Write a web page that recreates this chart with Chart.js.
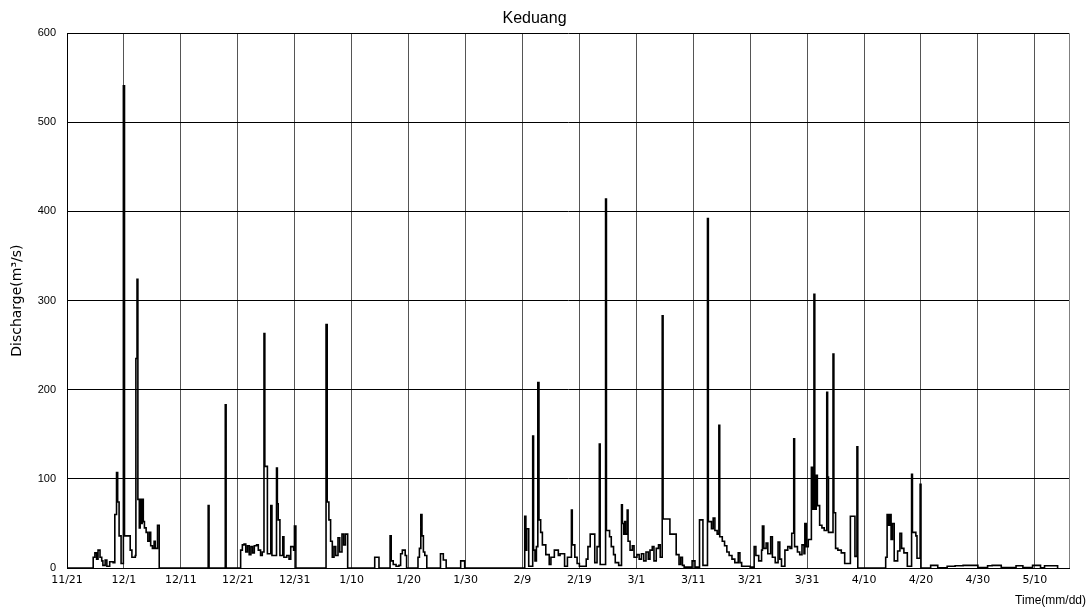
<!DOCTYPE html>
<html>
<head>
<meta charset="utf-8">
<script src="https://cdn.jsdelivr.net/npm/chart.js@4"></script>
<style>
  html, body { margin: 0; padding: 0; background: #fff; }
  #wrap { width: 1090px; height: 614px; }
</style>
</head>
<body>
<div id="wrap"><canvas id="chart" width="1090" height="614"></canvas></div>
<script>
// day offset from 11/21, discharge value holds from that time until the next one
const days = [
  0, 4.6, 4.9, 5.2, 5.45, 5.8, 6.1, 6.3, 6.7, 7.0, 7.5, 8.1, 8.4, 8.7, 8.9, 9.15, 9.5, 9.9, 10.1, 11.1,
  11.4, 12.0, 12.1, 12.3, 12.45, 12.7, 12.85, 13.05, 13.2, 13.4, 13.6, 13.9, 14.2, 14.5, 14.7, 15.0, 15.3, 15.5, 15.9, 16.2,
  24.8, 24.95, 27.8, 27.95,
  30.5, 30.8, 31.1, 31.4, 31.7, 32.0, 32.3, 32.6, 32.9, 33.3, 33.6, 34.0, 34.3, 34.6, 34.75, 35.2, 35.8, 36.0, 36.8, 36.95,
  37.1, 37.4, 37.9, 38.1, 38.6, 39.0, 39.3, 39.8, 39.95, 40.2,
  45.5, 45.7, 46.0, 46.3, 46.6, 46.9, 47.2, 47.6, 47.9, 48.3, 48.6, 48.9, 49.3,
  54.05, 54.8, 56.75, 56.95, 57.3, 57.8, 58.3, 58.6, 58.9, 59.4, 59.65,
  61.65, 61.9, 62.15, 62.35, 62.6, 62.85, 63.2, 65.6, 66.1, 66.6, 69.15, 69.85,
  80.4, 80.6, 80.75, 81.1, 81.8, 81.95, 82.2, 82.45, 82.7, 82.9, 83.2, 83.5, 84.1, 84.7, 85.0, 85.6, 86.3, 86.6, 87.4, 87.9,
  88.6, 88.75, 89.2, 89.6, 90.0, 91.2, 91.5, 91.9, 92.7, 93.1, 93.5, 93.65, 94.6, 94.75, 95.3, 95.6, 96.0, 96.3, 96.9,
  97.4, 97.55, 97.8, 97.95, 98.1, 98.4, 98.55, 98.9, 99.3, 99.6, 100.1, 100.5, 100.9, 101.3, 101.7, 102.1, 102.4, 102.8, 103.1,
  103.5, 103.9, 104.2, 104.55, 104.7, 105.9, 107.0, 107.5, 107.8, 108.1, 108.4, 109.8, 110.3, 111.1, 111.7,
  112.5, 112.65, 113.2, 113.5, 113.8, 114.2, 114.5, 114.65, 115.1, 115.5, 115.9, 116.3, 116.8, 117.3, 117.9, 118.2, 118.5,
  120.0, 120.7, 121.0, 121.5, 122.0, 122.15, 122.4, 122.8, 123.1, 123.6, 123.9, 124.4, 124.9, 125.2, 125.5, 126.1, 126.6,
  127.0, 127.3, 127.65, 127.8, 128.3, 128.7, 129.1, 129.45, 129.6, 129.85, 130.2, 130.75, 130.95, 131.2, 131.35, 131.6, 131.8,
  132.2, 132.6, 133.0, 133.45, 133.6, 133.75, 134.0, 134.55, 134.7, 135.0, 135.4, 136.0, 136.6, 137.6, 138.4, 138.75, 138.9,
  143.8, 144.05, 144.3, 144.5, 144.75, 145.0, 145.3, 145.9, 146.3, 146.6, 147.0, 147.6, 148.35, 148.5, 149.1, 149.3, 149.85, 150.0,
  151.7, 152.95, 154.6, 156.0, 157.4, 159.0, 160.0, 161.7, 162.5, 164.1, 166.7, 167.9, 169.6, 171.0, 171.7, 174.0
];

const discharge = [
  0, 12, 17, 10, 20, 12, 8, 3, 9, 2, 7, 6, 60, 107, 74, 36, 5, 541, 36, 20,
  12, 14, 235, 324, 77, 45, 77, 50, 77, 52, 45, 40, 30, 40, 25, 22, 30, 22, 48, 0,
  70, 0, 183, 0,
  20, 26, 27, 18, 25, 15, 24, 17, 25, 26, 20, 14, 18, 263, 114, 16, 70, 14, 112, 72,
  54, 14, 35, 12, 14, 10, 24, 20, 47, 0,
  273, 74, 54, 30, 12, 24, 14, 34, 18, 38, 26, 38, 0,
  12, 0, 36, 8, 4, 2, 3, 16, 20, 14, 0,
  12, 22, 60, 36, 18, 14, 0, 16, 9, 0, 8, 0,
  58, 20, 44, 2, 148, 20, 8, 24, 208, 54, 40, 26, 15, 4, 12, 20, 14, 16, 2, 12,
  65, 26, 12, 5, 2, 10, 24, 38, 6, 24, 139, 4, 414, 42, 35, 24, 15, 6, 3,
  71, 50, 38, 52, 38, 65, 30, 20, 25, 12, 15, 10, 16, 8, 18, 10, 20, 24, 8,
  22, 26, 12, 283, 55, 38, 15, 4, 12, 3, 1, 8, 1, 54, 3,
  392, 52, 44, 56, 42, 38, 160, 35, 30, 25, 18, 14, 10, 6, 17, 6, 2,
  1, 24, 14, 8, 20, 47, 22, 28, 16, 35, 12, 6, 29, 10, 2, 20, 24,
  22, 39, 145, 24, 18, 15, 26, 16, 50, 24, 32, 113, 66, 307, 66, 104, 70,
  48, 45, 42, 197, 102, 40, 40, 240, 62, 22, 20, 17, 5, 58, 13, 136, 0,
  12, 60, 48, 60, 32, 50, 8, 19, 39, 22, 17, 2, 105, 40, 36, 11, 94, 0,
  3, 0.3, 2, 2.5, 3, 3, 0.5, 2.5, 3, 0.5, 2.5, 0.5, 3, 0.3, 2.5, 0
];

const tickLabels = ['11/21', '12/1', '12/11', '12/21', '12/31', '1/10', '1/20', '1/30', '2/9',
  '2/19', '3/1', '3/11', '3/21', '3/31', '4/10', '4/20', '4/30', '5/10'];

const points = days.map((d, i) => ({ x: d, y: discharge[i] }));

// top/right frame and the x axis caption that sits past the plot edge
const framePlugin = {
  id: 'frame',
  afterDraw(chart) {
    const ctx = chart.ctx;
    const a = chart.chartArea;
    ctx.save();
    ctx.strokeStyle = '#808080';
    ctx.lineWidth = 1;
    ctx.beginPath();
    const r = Math.round(a.right) + 0.5;
    ctx.moveTo(r, a.top);
    ctx.lineTo(r, a.bottom);
    ctx.stroke();
    ctx.fillStyle = '#000';
    ctx.font = '12px "Liberation Sans", Arial, sans-serif';
    ctx.textAlign = 'right';
    ctx.textBaseline = 'middle';
    ctx.fillText('Time(mm/dd)', 1086, 601);
    ctx.restore();
  }
};

new Chart(document.getElementById('chart'), {
  type: 'line',
  data: {
    datasets: [{
      label: 'Keduang',
      data: points,
      borderColor: '#000',
      borderWidth: 1.6,
      pointRadius: 0,
      stepped: true,
      fill: false
    }]
  },
  options: {
    responsive: false,
    animation: false,
    layout: { padding: { left: 0, right: 21, top: 0, bottom: 0 } },
    plugins: {
      legend: { display: false },
      tooltip: { enabled: false },
      title: {
        display: true,
        text: 'Keduang',
        color: '#000',
        font: { family: '"Liberation Sans", Arial, sans-serif', size: 16, weight: 'normal' },
        padding: { top: 9, bottom: 5 }
      }
    },
    scales: {
      x: {
        type: 'linear',
        min: 0,
        max: 176,
        afterBuildTicks(scale) {
          scale.ticks = tickLabels.map((t, i) => ({ value: i * 10 }));
        },
        afterFit(scale) { scale.height = 46; },
        ticks: {
          autoSkip: false,
          maxRotation: 0,
          padding: 6,
          color: '#000',
          font: { family: '"DejaVu Sans", sans-serif', size: 11 },
          callback: (v, i) => tickLabels[i]
        },
        grid: { color: '#555', drawTicks: false },
        border: { color: '#000', width: 1 }
      },
      y: {
        min: 0,
        max: 600,
        afterFit(scale) { scale.width = 67; },
        ticks: {
          stepSize: 100,
          padding: 11,
          color: '#000',
          font: { family: '"Liberation Sans", Arial, sans-serif', size: 11 }
        },
        grid: { color: '#000', drawTicks: false },
        border: { color: '#000', width: 1 },
        title: {
          display: true,
          text: 'Discharge(m³/s)',
          color: '#000',
          font: { family: '"DejaVu Sans", sans-serif', size: 14 },
          padding: { top: 9, bottom: 0 }
        }
      }
    }
  },
  plugins: [framePlugin]
});
</script>
</body>
</html>
